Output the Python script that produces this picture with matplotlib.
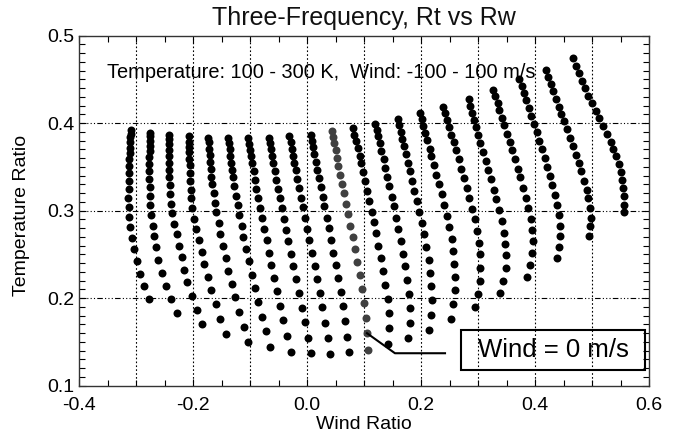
import matplotlib
matplotlib.use("Agg")
import matplotlib.pyplot as plt
from matplotlib.patches import Rectangle
from matplotlib.ticker import MultipleLocator, FormatStrFormatter

# =========================
# DATA (one row per wind value, dots run from top of each curve to bottom)
# =========================

wind_ms = [-100, -90, -80, -70, -60, -50, -40, -30, -20, -10, 0,
           10, 20, 30, 40, 50, 60, 70, 80, 90, 100]

rw_values = [
    [-0.309, -0.309, -0.310, -0.310, -0.310, -0.311, -0.312, -0.312, -0.313, -0.313, -0.313, -0.314, -0.313, -0.312, -0.310, -0.307, -0.304, -0.299, -0.293, -0.286, -0.277],
    [-0.276, -0.276, -0.276, -0.276, -0.276, -0.277, -0.277, -0.277, -0.277, -0.276, -0.276, -0.275, -0.273, -0.271, -0.269, -0.265, -0.261, -0.255, -0.248, -0.239, -0.229],
    [-0.242, -0.242, -0.242, -0.242, -0.242, -0.242, -0.242, -0.242, -0.241, -0.241, -0.239, -0.237, -0.233, -0.229, -0.224, -0.220, -0.216, -0.210, -0.202, -0.193, -0.184],
    [-0.207, -0.207, -0.207, -0.207, -0.207, -0.206, -0.206, -0.205, -0.204, -0.203, -0.201, -0.198, -0.194, -0.190, -0.185, -0.180, -0.174, -0.168, -0.160, -0.152, -0.143],
    [-0.173, -0.172, -0.172, -0.171, -0.170, -0.169, -0.168, -0.166, -0.164, -0.161, -0.159, -0.155, -0.152, -0.147, -0.143, -0.138, -0.132, -0.126, -0.119, -0.111, -0.103],
    [-0.138, -0.137, -0.136, -0.135, -0.134, -0.132, -0.130, -0.128, -0.125, -0.122, -0.119, -0.115, -0.112, -0.107, -0.102, -0.097, -0.092, -0.086, -0.079, -0.072, -0.065],
    [-0.103, -0.102, -0.100, -0.099, -0.097, -0.094, -0.092, -0.089, -0.086, -0.083, -0.079, -0.075, -0.071, -0.067, -0.063, -0.058, -0.053, -0.047, -0.042, -0.036, -0.029],
    [-0.067, -0.065, -0.063, -0.061, -0.059, -0.057, -0.054, -0.051, -0.048, -0.044, -0.041, -0.037, -0.033, -0.029, -0.024, -0.019, -0.014, -0.009, -0.004, 0.001, 0.006],
    [-0.031, -0.029, -0.027, -0.025, -0.023, -0.020, -0.017, -0.014, -0.011, -0.008, -0.004, 0.000, 0.004, 0.008, 0.013, 0.017, 0.022, 0.026, 0.031, 0.036, 0.040],
    [0.006, 0.008, 0.010, 0.012, 0.015, 0.018, 0.020, 0.024, 0.027, 0.030, 0.034, 0.038, 0.042, 0.046, 0.050, 0.054, 0.059, 0.063, 0.067, 0.070, 0.073],
    [0.043, 0.045, 0.047, 0.050, 0.052, 0.055, 0.058, 0.061, 0.064, 0.068, 0.072, 0.076, 0.080, 0.084, 0.088, 0.092, 0.096, 0.100, 0.103, 0.105, 0.107],
    [0.081, 0.083, 0.086, 0.089, 0.092, 0.095, 0.098, 0.102, 0.105, 0.109, 0.113, 0.117, 0.121, 0.125, 0.129, 0.133, 0.137, 0.141, 0.143, 0.144, 0.142],
    [0.119, 0.122, 0.124, 0.127, 0.130, 0.134, 0.137, 0.140, 0.144, 0.148, 0.152, 0.156, 0.160, 0.164, 0.168, 0.172, 0.176, 0.179, 0.180, 0.180, 0.177],
    [0.159, 0.161, 0.164, 0.167, 0.170, 0.174, 0.177, 0.181, 0.184, 0.188, 0.192, 0.196, 0.201, 0.205, 0.209, 0.213, 0.216, 0.218, 0.219, 0.217, 0.214],
    [0.198, 0.201, 0.204, 0.207, 0.211, 0.215, 0.218, 0.222, 0.226, 0.231, 0.236, 0.240, 0.245, 0.249, 0.254, 0.256, 0.258, 0.259, 0.259, 0.256, 0.252],
    [0.239, 0.242, 0.245, 0.249, 0.253, 0.257, 0.261, 0.266, 0.270, 0.275, 0.280, 0.284, 0.289, 0.294, 0.298, 0.301, 0.303, 0.303, 0.303, 0.300, 0.294],
    [0.283, 0.286, 0.289, 0.293, 0.296, 0.300, 0.304, 0.308, 0.313, 0.317, 0.322, 0.327, 0.332, 0.337, 0.342, 0.345, 0.347, 0.349, 0.348, 0.344, 0.338],
    [0.326, 0.330, 0.334, 0.337, 0.341, 0.345, 0.350, 0.355, 0.359, 0.364, 0.369, 0.374, 0.379, 0.384, 0.388, 0.392, 0.395, 0.396, 0.394, 0.390, 0.385],
    [0.372, 0.376, 0.380, 0.384, 0.389, 0.393, 0.398, 0.403, 0.407, 0.412, 0.417, 0.421, 0.426, 0.430, 0.435, 0.439, 0.442, 0.444, 0.444, 0.442, 0.438],
    [0.418, 0.422, 0.427, 0.431, 0.436, 0.441, 0.446, 0.451, 0.456, 0.461, 0.466, 0.471, 0.476, 0.481, 0.486, 0.490, 0.493, 0.496, 0.497, 0.496, 0.494],
    [0.467, 0.471, 0.476, 0.482, 0.487, 0.493, 0.499, 0.506, 0.512, 0.519, 0.526, 0.532, 0.537, 0.542, 0.547, 0.550, 0.553, 0.554, 0.556, 0.556, 0.556],
]

rt_values = [
    [0.392, 0.388, 0.384, 0.378, 0.372, 0.366, 0.359, 0.351, 0.343, 0.334, 0.325, 0.315, 0.304, 0.293, 0.281, 0.269, 0.256, 0.242, 0.228, 0.214, 0.199],
    [0.389, 0.385, 0.380, 0.374, 0.368, 0.361, 0.353, 0.345, 0.336, 0.327, 0.317, 0.306, 0.295, 0.283, 0.271, 0.258, 0.244, 0.229, 0.214, 0.199, 0.183],
    [0.387, 0.382, 0.376, 0.369, 0.362, 0.355, 0.347, 0.338, 0.329, 0.319, 0.308, 0.297, 0.285, 0.273, 0.260, 0.247, 0.232, 0.218, 0.202, 0.186, 0.170],
    [0.385, 0.379, 0.373, 0.367, 0.359, 0.352, 0.343, 0.334, 0.324, 0.314, 0.303, 0.291, 0.279, 0.266, 0.253, 0.239, 0.224, 0.209, 0.193, 0.176, 0.159],
    [0.383, 0.378, 0.371, 0.364, 0.356, 0.348, 0.339, 0.330, 0.320, 0.309, 0.298, 0.286, 0.273, 0.260, 0.246, 0.231, 0.216, 0.201, 0.184, 0.167, 0.150],
    [0.383, 0.377, 0.371, 0.363, 0.355, 0.347, 0.338, 0.328, 0.317, 0.306, 0.295, 0.282, 0.270, 0.256, 0.242, 0.227, 0.212, 0.196, 0.179, 0.162, 0.144],
    [0.383, 0.376, 0.369, 0.362, 0.354, 0.345, 0.335, 0.325, 0.315, 0.303, 0.292, 0.279, 0.266, 0.252, 0.238, 0.223, 0.208, 0.191, 0.175, 0.157, 0.139],
    [0.383, 0.377, 0.370, 0.362, 0.354, 0.345, 0.335, 0.325, 0.314, 0.303, 0.291, 0.278, 0.265, 0.251, 0.237, 0.222, 0.206, 0.189, 0.173, 0.155, 0.137],
    [0.385, 0.378, 0.371, 0.363, 0.355, 0.346, 0.336, 0.326, 0.315, 0.304, 0.292, 0.279, 0.266, 0.252, 0.237, 0.222, 0.206, 0.190, 0.172, 0.155, 0.136],
    [0.387, 0.380, 0.373, 0.365, 0.356, 0.347, 0.337, 0.327, 0.316, 0.305, 0.292, 0.280, 0.266, 0.252, 0.238, 0.223, 0.207, 0.191, 0.174, 0.156, 0.138],
    [0.391, 0.384, 0.377, 0.369, 0.360, 0.351, 0.341, 0.331, 0.320, 0.308, 0.296, 0.283, 0.270, 0.256, 0.241, 0.226, 0.210, 0.194, 0.177, 0.160, 0.141],
    [0.394, 0.387, 0.380, 0.372, 0.363, 0.354, 0.344, 0.334, 0.323, 0.311, 0.299, 0.287, 0.274, 0.260, 0.246, 0.231, 0.215, 0.199, 0.183, 0.166, 0.148],
    [0.399, 0.392, 0.385, 0.377, 0.368, 0.359, 0.349, 0.339, 0.328, 0.316, 0.305, 0.292, 0.279, 0.265, 0.251, 0.237, 0.221, 0.205, 0.189, 0.172, 0.155],
    [0.405, 0.398, 0.390, 0.382, 0.374, 0.365, 0.355, 0.345, 0.334, 0.323, 0.311, 0.299, 0.286, 0.273, 0.259, 0.244, 0.229, 0.214, 0.198, 0.181, 0.164],
    [0.412, 0.405, 0.397, 0.389, 0.381, 0.371, 0.362, 0.352, 0.341, 0.330, 0.319, 0.307, 0.294, 0.281, 0.268, 0.254, 0.239, 0.224, 0.209, 0.193, 0.176],
    [0.419, 0.412, 0.404, 0.396, 0.387, 0.378, 0.369, 0.359, 0.348, 0.337, 0.326, 0.315, 0.302, 0.290, 0.277, 0.263, 0.250, 0.235, 0.220, 0.205, 0.190],
    [0.428, 0.420, 0.412, 0.404, 0.396, 0.387, 0.377, 0.367, 0.357, 0.347, 0.336, 0.324, 0.313, 0.301, 0.288, 0.275, 0.262, 0.249, 0.235, 0.220, 0.206],
    [0.438, 0.431, 0.423, 0.415, 0.406, 0.398, 0.388, 0.379, 0.369, 0.359, 0.348, 0.338, 0.326, 0.315, 0.303, 0.291, 0.278, 0.265, 0.252, 0.238, 0.224],
    [0.450, 0.442, 0.434, 0.426, 0.417, 0.408, 0.399, 0.390, 0.380, 0.370, 0.360, 0.350, 0.340, 0.329, 0.318, 0.306, 0.295, 0.283, 0.271, 0.258, 0.246],
    [0.461, 0.453, 0.445, 0.437, 0.428, 0.419, 0.411, 0.402, 0.393, 0.383, 0.374, 0.364, 0.354, 0.345, 0.334, 0.324, 0.314, 0.303, 0.292, 0.282, 0.271],
    [0.474, 0.465, 0.457, 0.448, 0.440, 0.431, 0.423, 0.414, 0.406, 0.397, 0.388, 0.379, 0.371, 0.362, 0.353, 0.344, 0.335, 0.326, 0.317, 0.307, 0.298],
]

x_ticks = [-0.4, -0.2, 0.0, 0.2, 0.4, 0.6]
x_grid = [-0.3, -0.2, -0.1, 0.0, 0.1, 0.2, 0.3, 0.4, 0.5]
y_grid = [0.2, 0.3, 0.4]

# =========================
# FIGURE
# =========================

plt.rcParams["font.family"] = ["Liberation Sans", "DejaVu Sans"]

fig = plt.figure(figsize=(6.75, 4.36), dpi=100)
ax = fig.add_axes([79 / 675, 1 - 385.7 / 436, 570.3 / 675, 350 / 436])

# GRID
for xv in x_grid:
    ax.axvline(xv, color="black", lw=0.8, ls=(0, (1.5, 2)), zorder=1)
for yv in y_grid:
    ax.axhline(yv, color="black", lw=0.8, ls=(0, (5, 2, 1, 2, 1, 2, 1, 2)), zorder=1)

# CURVES
for wind, rw, rt in zip(wind_ms, rw_values, rt_values):
    color = "#404040" if wind == 0 else "black"
    ax.scatter(rw, rt, s=33, color=color, linewidths=0, zorder=3)

# AXES
ax.set_xlim(-0.4, 0.6)
ax.set_ylim(0.1, 0.5)
ax.set_xticks(x_ticks)
ax.xaxis.set_minor_locator(MultipleLocator(0.05))
ax.yaxis.set_major_locator(MultipleLocator(0.1))
ax.yaxis.set_minor_locator(MultipleLocator(0.01))
ax.xaxis.set_major_formatter(FormatStrFormatter("%.1f"))
ax.yaxis.set_major_formatter(FormatStrFormatter("%.1f"))

ax.tick_params(which="both", direction="in", top=True, right=True,
               labelsize=14, colors="black")
ax.tick_params(which="major", length=5, width=0.8, pad=8)
ax.tick_params(which="minor", length=4, width=0.8)
ax.tick_params(axis="y", which="major", pad=3)

for sp in ax.spines.values():
    sp.set_color("#333333")
    sp.set_linewidth(1.0)

# TEXT
ax.set_title("Three-Frequency, Rt vs Rw", fontsize=18, pad=8, color="#111111")
fig.text(364 / 675, 1 - 424 / 436, "Wind Ratio",
         fontsize=14, ha="center", va="center")
fig.text(22 / 675, 1 - 215 / 436, "Temperature Ratio",
         fontsize=14, ha="center", va="center", rotation=90)
ax.text(-0.351, 0.4583, "Temperature: 100 - 300 K,  Wind: -100 - 100 m/s",
        fontsize=14.4, ha="left", va="center")

# WIND = 0 CALLOUT
zero = wind_ms.index(0)
ax.plot([rw_values[zero][19], 0.154, 0.2418],
        [rt_values[zero][19], 0.1371, 0.1371],
        color="black", lw=1.5, zorder=4)
ax.add_patch(Rectangle((0.2698, 0.1182), 0.3227, 0.0449,
                       fill=False, ec="black", lw=1.5, zorder=4))
ax.text(0.4312, 0.1406, "Wind = 0 m/s",
        fontsize=18.5, ha="center", va="center", zorder=5)

fig.savefig("out.png", dpi=100)
